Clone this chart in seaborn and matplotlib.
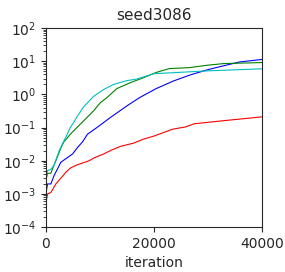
import numpy as np
import pandas as pd
import matplotlib
matplotlib.use("Agg")
import matplotlib.pyplot as plt
import matplotlib.ticker as mticker
import seaborn as sns

# iteration / value pairs
red_it = [0, 300, 920, 1840, 3700, 4520, 5740, 8000, 8830, 10690, 12020, 13770, 16240, 18100, 19940, 23430, 25900, 27440, 32680, 40000]
red_val = [5e-4, 1.0e-3, 1.1e-3, 2.0e-3, 4.5e-3, 6.0e-3, 7.5e-3, 1.0e-2, 1.2e-2, 1.6e-2, 2.05e-2, 2.7e-2, 3.4e-2, 4.5e-2, 5.5e-2, 8.9e-2, 0.105, 0.13, 0.16, 0.21]

blue_it = [0, 300, 920, 1530, 2770, 4930, 5850, 6780, 7700, 9440, 11920, 15000, 17350, 20450, 23520, 26610, 29700, 32780, 35870, 40000]
blue_val = [1.0e-3, 2.0e-3, 2.0e-3, 3.6e-3, 9e-3, 1.6e-2, 2.5e-2, 3.7e-2, 6.3e-2, 0.1, 0.2, 0.45, 0.8, 1.5, 2.5, 3.8, 5.4, 7.2, 9.5, 11.3]

green_it = [0, 300, 920, 1230, 1840, 2770, 3280, 4520, 5740, 7590, 8830, 10070, 11300, 13150, 15630, 18100, 20450, 22900, 26600, 29700, 33000, 40000]
green_val = [2.5e-3, 4.2e-3, 4.2e-3, 5.7e-3, 1.0e-2, 2.4e-2, 3.6e-2, 6.3e-2, 0.1, 0.2, 0.32, 0.56, 0.8, 1.5, 2.25, 3.2, 4.6, 6.0, 6.4, 7.5, 8.5, 9.1]

cyan_it = [0, 300, 920, 1530, 2460, 3280, 3700, 4520, 5230, 5740, 6980, 8830, 10690, 12540, 15000, 16850, 19940, 23520, 29700, 40000]
cyan_val = [3e-3, 5e-3, 5.5e-3, 7.5e-3, 2.0e-2, 3.8e-2, 5.2e-2, 0.1, 0.15, 0.21, 0.42, 0.87, 1.4, 2.0, 2.6, 2.9, 4.2, 4.5, 5.1, 5.9]

series = [
    ("red", red_it, red_val, "r"),
    ("blue", blue_it, blue_val, "b"),
    ("green", green_it, green_val, "g"),
    ("cyan", cyan_it, cyan_val, "c"),
]

sns.set_style("ticks")
fig = plt.figure(figsize=(2.85, 2.72), dpi=100)
ax = fig.add_axes([0.161, 0.165, 0.758, 0.732])

for name, it, val, col in series:
    df = pd.DataFrame({"iteration": it, "value": val})
    sns.lineplot(data=df, x="iteration", y="value", color=col, linewidth=0.8, ax=ax)

ax.set_yscale("log")
ax.set_ylim(1e-4, 1e2)
ax.set_xlim(0, 40000)
ax.set_xticks([0, 20000, 40000])
ax.yaxis.set_major_locator(mticker.LogLocator(base=10, numticks=10))
ax.yaxis.set_minor_locator(mticker.LogLocator(base=10, subs=np.arange(2, 10), numticks=20))
ax.yaxis.set_minor_formatter(mticker.NullFormatter())
ax.tick_params(axis="y", which="minor", length=2, width=0.6)
ax.set_xlabel("iteration", fontsize=10)
ax.set_ylabel("")
ax.set_title("seed3086", fontsize=11)
ax.tick_params(labelsize=10)

fig.savefig("out.png", dpi=100)
